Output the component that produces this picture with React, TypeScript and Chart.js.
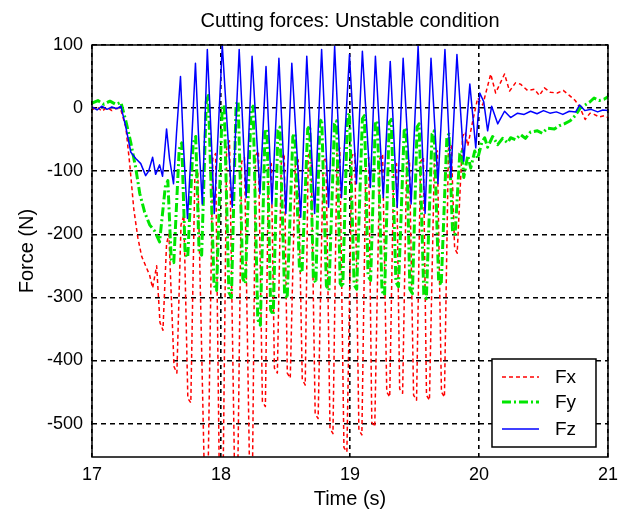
import { useEffect, useRef } from "react";
import { Chart, registerables } from "chart.js";

Chart.register(...registerables);

const chartTitle = "Cutting forces: Unstable condition";
const xTitle = "Time (s)";
const yTitle = "Force (N)";
const xTicks = [17, 18, 19, 20, 21];
const yTicks = [-500, -400, -300, -200, -100, 0, 100];
const seriesNames = ["Fx", "Fy", "Fz"];

const fxTime = [
  17.000, 17.039, 17.077, 17.116, 17.154, 17.193, 17.224, 17.262, 17.293, 17.324, 17.355, 17.385, 17.416, 17.447, 17.470, 17.501,
  17.527, 17.550, 17.578, 17.596, 17.636, 17.658, 17.690, 17.712, 17.743, 17.766, 17.797, 17.820, 17.874, 17.897, 17.936, 17.958,
  17.990, 18.013, 18.044, 18.066, 18.106, 18.129, 18.160, 18.182, 18.221, 18.244, 18.268, 18.290, 18.321, 18.344, 18.368, 18.390,
  18.414, 18.437, 18.468, 18.490, 18.514, 18.537, 18.576, 18.598, 18.630, 18.653, 18.676, 18.698, 18.730, 18.753, 18.792, 18.814,
  18.845, 18.868, 18.899, 18.921, 18.953, 18.976, 19.015, 19.037, 19.069, 19.092, 19.123, 19.145, 19.169, 19.192, 19.231, 19.253,
  19.285, 19.308, 19.339, 19.361, 19.385, 19.408, 19.439, 19.461, 19.493, 19.516, 19.547, 19.569, 19.593, 19.616, 19.655, 19.677,
  19.709, 19.732, 19.763, 19.785, 19.811, 19.831, 19.873, 19.893,
  19.913, 19.952, 19.990, 20.029, 20.091, 20.129, 20.198, 20.237, 20.283, 20.322, 20.376, 20.430, 20.468, 20.507, 20.553, 20.607,
  20.653, 20.707, 20.746, 20.784, 20.823, 20.861, 20.892, 20.931, 20.969, 21.000,
];
const fxForce = [
  -3, 2, -5, 1, -4, 0, -3, -30, -90, -160, -205, -235, -250, -265, -285, -250,
  -340, -352, -215, -200, -410, -420, -185, -170, -460, -467, -110, -100, -610, -620, -80, -72,
  -640, -650, -60, -52, -590, -600, -85, -78, -570, -580, -75, -68, -465, -473, -95, -88,
  -412, -420, -80, -72, -420, -428, -90, -82, -430, -439, -75, -68, -485, -492, -85, -78,
  -508, -516, -70, -63, -538, -545, -76, -70, -510, -518, -85, -78, -498, -505, -80, -73,
  -450, -458, -95, -88, -445, -452, -88, -82, -455, -463, -85, -78, -455, -463, -75, -68,
  -450, -458, -65, -58, -222, -230, -45, -38,
  -60, -20, 16, 5, 54, 24, 54, 27, 40, 38, 28, 30, 20, 32, 25, 24,
  28, 19, 12, 0, -18, -8, -10, -14, -12, -15,
];

const fyTime = [
  17.000, 17.046, 17.092, 17.139, 17.185, 17.224, 17.262, 17.301, 17.339, 17.370, 17.408, 17.447, 17.486, 17.524,
  17.568, 17.588, 17.614, 17.634, 17.676, 17.696, 17.722, 17.742, 17.784, 17.804, 17.830, 17.850, 17.886, 17.902,
  17.946, 17.966, 18.009, 18.025, 18.061, 18.081, 18.117, 18.133, 18.169, 18.189, 18.233, 18.249, 18.285, 18.305,
  18.341, 18.357, 18.385, 18.405, 18.441, 18.457, 18.493, 18.513, 18.557, 18.573, 18.608, 18.628, 18.672, 18.688,
  18.716, 18.736, 18.765, 18.781, 18.817, 18.837, 18.880, 18.896, 18.924, 18.944, 18.980, 18.996, 19.032, 19.052,
  19.096, 19.112, 19.140, 19.160, 19.196, 19.212, 19.248, 19.268, 19.304, 19.320, 19.356, 19.376, 19.420, 19.436,
  19.464, 19.484, 19.520, 19.536, 19.572, 19.592, 19.636, 19.652, 19.687, 19.707, 19.751, 19.767, 19.795, 19.815,
  19.851, 19.867,
  19.882, 19.913, 19.936, 19.967, 19.990, 20.021, 20.044, 20.067, 20.106, 20.145, 20.183, 20.222, 20.245, 20.283,
  20.322, 20.360, 20.399, 20.453, 20.491, 20.530, 20.584, 20.622, 20.661, 20.707, 20.746, 20.784, 20.823, 20.861,
  20.892, 20.931, 20.969, 21.000,
];
const fyForce = [
  8, 12, 6, 11, 6, 9, -20, -55, -95, -135, -165, -185, -195, -212,
  -125, -115, -240, -245, -65, -55, -230, -237, -55, -45, -228, -233, 10, 20,
  -280, -289, 0, 5, -292, -300, 6, 11, -270, -278, -2, 3, -335, -344,
  -38, -33, -320, -328, -35, -30, -295, -302, -45, -40, -255, -261, -33, -28,
  -270, -277, -22, -17, -282, -289, -25, -20, -278, -284, -13, -8, -280, -287,
  -17, -12, -266, -273, -25, -20, -290, -297, -23, -18, -276, -283, -36, -31,
  -287, -294, -30, -25, -295, -302, -41, -36, -274, -281, -46, -41, -195, -200,
  -72, -68,
  -110, -75, -95, -68, -80, -55, -47, -62, -45, -58, -48, -55, -47, -50,
  -42, -48, -38, -36, -40, -32, -33, -28, -25, -20, -12, 0, 5, 10,
  16, 12, 14, 18,
];

const fzTime = [
  17.000, 17.039, 17.077, 17.116, 17.154, 17.193, 17.224, 17.262, 17.301, 17.339, 17.378, 17.416, 17.439, 17.470, 17.493, 17.524,
  17.547, 17.578, 17.601, 17.632, 17.655, 17.686, 17.709, 17.740, 17.771, 17.802, 17.825, 17.855, 17.894, 17.925, 17.948, 18.010,
  18.087, 18.141, 18.195, 18.241, 18.302, 18.349, 18.395, 18.449, 18.503, 18.549, 18.618, 18.665, 18.726, 18.780, 18.834, 18.881,
  18.934, 18.996, 19.050, 19.096, 19.158, 19.197, 19.258, 19.312, 19.366, 19.412, 19.474, 19.528, 19.582, 19.628, 19.682, 19.736,
  19.782, 19.829, 19.882, 19.929, 19.975, 20.006, 20.037, 20.067, 20.098, 20.145, 20.198, 20.245, 20.299, 20.350, 20.400, 20.450,
  20.500, 20.550, 20.600, 20.650, 20.700, 20.750, 20.780, 20.820, 20.870, 20.920, 20.960, 21.000,
];
const fzForce = [
  2, -3, 3, -2, 2, -1, 3, -30, -70, -80, -88, -107, -100, -78, -105, -90,
  -108, -33, -80, -120, -40, 50, -60, -175, -60, 71, -40, -152, 93, -50, -167, 100,
  -157, 93, -142, 82, -136, 66, -152, 79, -167, 71, -173, 82, -167, 93, -157, 98,
  -142, 85, -120, 90, -126, 82, -142, 74, -157, 79, -152, 98, -167, 79, -120, 93,
  -110, 85, -84, 38, -63, 24, 10, -36, 3, -25, -5, -15, -8, -10, -5, -9,
  -4, -8, -6, -10, -5, -6, 5, -4, -2, -6, -3, -4,
];

const FONT = "'Liberation Sans', Arial, Helvetica, sans-serif";

function toPoints(t: number[], v: number[]) {
  const n = Math.min(t.length, v.length);
  const out: { x: number; y: number }[] = [];
  for (let i = 0; i < n; i++) out.push({ x: t[i], y: v[i] });
  return out;
}

const framePlugin = {
  id: "frameAndLegend",
  afterDatasetsDraw(chart: any) {
    const { ctx, chartArea: a } = chart;
    ctx.save();
    ctx.setLineDash([]);
    ctx.strokeStyle = "#000";
    ctx.lineWidth = 1.5;
    ctx.strokeRect(a.left, a.top, a.right - a.left, a.bottom - a.top);

    ctx.fillStyle = "#000";
    ctx.font = `20px ${FONT}`;
    ctx.textAlign = "center";
    ctx.textBaseline = "middle";
    ctx.fillText(chartTitle, (a.left + a.right) / 2, 21);

    const w = 104;
    const h = 88;
    const x0 = a.right - 116;
    const y0 = a.bottom - 98;
    ctx.fillStyle = "#fff";
    ctx.fillRect(x0, y0, w, h);
    ctx.strokeStyle = "#000";
    ctx.lineWidth = 1.5;
    ctx.strokeRect(x0, y0, w, h);
    const rowY = [y0 + 18, y0 + 43, y0 + 70];
    chart.data.datasets.forEach((ds: any, i: number) => {
      const y = rowY[i];
      ctx.save();
      ctx.strokeStyle = ds.borderColor;
      ctx.lineWidth = ds.borderWidth;
      ctx.setLineDash(ds.borderDash || []);
      ctx.beginPath();
      ctx.moveTo(x0 + 10, y);
      ctx.lineTo(x0 + 47, y);
      ctx.stroke();
      ctx.restore();
      ctx.fillStyle = "#000";
      ctx.font = `19px ${FONT}`;
      ctx.textAlign = "left";
      ctx.textBaseline = "middle";
      ctx.fillText(ds.label, x0 + 63, y + 1);
    });
    ctx.restore();
  },
};

export default function App() {
  const ref = useRef<HTMLCanvasElement>(null);

  useEffect(() => {
    const canvas = ref.current;
    if (!canvas) return;
    const chart = new Chart(canvas, {
      type: "line",
      data: {
        datasets: [
          {
            label: seriesNames[0],
            data: toPoints(fxTime, fxForce),
            borderColor: "#ff0000",
            borderWidth: 1.5,
            borderDash: [4, 3],
            pointRadius: 0,
            order: 3,
          },
          {
            label: seriesNames[1],
            data: toPoints(fyTime, fyForce),
            borderColor: "#00e600",
            borderWidth: 3,
            borderDash: [9, 3, 2, 3],
            pointRadius: 0,
            order: 2,
          },
          {
            label: seriesNames[2],
            data: toPoints(fzTime, fzForce),
            borderColor: "#0000ff",
            borderWidth: 1.5,
            pointRadius: 0,
            order: 1,
          },
        ],
      },
      options: {
        animation: false,
        responsive: false,
        events: [],
        layout: { padding: { top: 45, right: 15, left: 0, bottom: 0 } },
        elements: { line: { tension: 0, borderJoinStyle: "round" } },
        plugins: {
          legend: { display: false },
          title: { display: false },
          tooltip: { enabled: false },
        },
        scales: {
          x: {
            type: "linear",
            min: 17,
            max: 21,
            afterBuildTicks: (s: any) => {
              s.ticks = xTicks.map((v) => ({ value: v }));
            },
            afterFit: (s: any) => {
              s.height = 56;
            },
            ticks: {
              color: "#000",
              font: { family: FONT, size: 18 },
              padding: 7,
              maxRotation: 0,
              autoSkip: false,
            },
            grid: { color: "#000", lineWidth: 1.6, drawTicks: false },
            border: { display: false, dash: [4, 4] },
            title: {
              display: true,
              text: xTitle,
              color: "#000",
              font: { family: FONT, size: 20 },
              padding: { top: 0, bottom: 2 },
            },
          },
          y: {
            type: "linear",
            min: -553,
            max: 100,
            afterBuildTicks: (s: any) => {
              s.ticks = yTicks.map((v) => ({ value: v }));
            },
            afterFit: (s: any) => {
              s.width = 92;
            },
            ticks: {
              color: "#000",
              font: { family: FONT, size: 18 },
              padding: 9,
              autoSkip: false,
            },
            grid: { color: "#000", lineWidth: 1.5, drawTicks: false },
            border: { display: false, dash: [5, 4] },
            title: {
              display: true,
              text: yTitle,
              color: "#000",
              font: { family: FONT, size: 20 },
              padding: { top: 15, bottom: 0 },
            },
          },
        },
      },
      plugins: [framePlugin],
    } as any);
    return () => chart.destroy();
  }, []);

  return (
    <div
      style={{
        position: "absolute",
        left: 0,
        top: 0,
        width: 625,
        height: 513,
        background: "#fff",
      }}
    >
      <canvas ref={ref} width={625} height={513} style={{ display: "block" }} />
    </div>
  );
}
